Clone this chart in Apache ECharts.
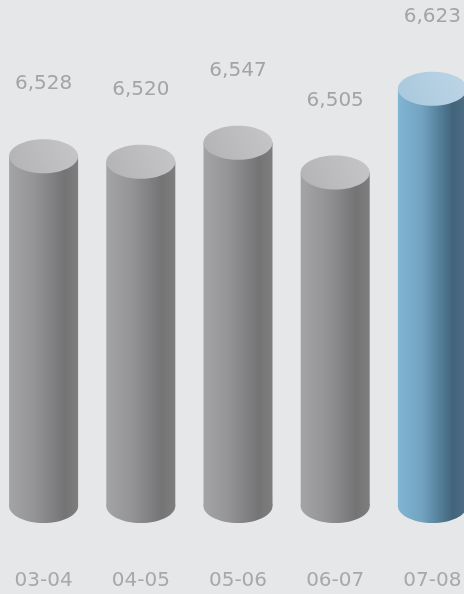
<!DOCTYPE html>
<html>
<head>
<meta charset="utf-8">
<script src="https://cdn.jsdelivr.net/npm/echarts@6/dist/echarts.min.js"></script>
<style>
html,body{margin:0;padding:0;background:#e6e7e9;overflow:hidden;width:464px;height:594px;}
#chart{width:486px;height:594px;margin-left:-5px;}
</style>
</head>
<body>
<div id="chart"></div>
<script>
var categories = ['03-04', '04-05', '05-06', '06-07', '07-08'];
var values = [6528, 6520, 6547, 6505, 6623];
var highlightIndex = 4;

var chart = echarts.init(document.getElementById('chart'), null, {renderer: 'canvas'});

function bodyGrad(blue) {
  var stops = blue ? [
    {offset: 0, color: '#80b5d3'},
    {offset: 0.35, color: '#72a3c0'},
    {offset: 0.6, color: '#55809a'},
    {offset: 0.8, color: '#42637a'},
    {offset: 1, color: '#4e6f84'}
  ] : [
    {offset: 0, color: '#a4a4a6'},
    {offset: 0.35, color: '#959597'},
    {offset: 0.6, color: '#838385'},
    {offset: 0.8, color: '#747474'},
    {offset: 1, color: '#7e7e7e'}
  ];
  return new echarts.graphic.LinearGradient(0, 0, 1, 0, stops);
}
function topGrad(blue) {
  var stops = blue ? [
    {offset: 0, color: '#a9c8dc'},
    {offset: 1, color: '#bcd5e6'}
  ] : [
    {offset: 0, color: '#b3b3b5'},
    {offset: 1, color: '#c6c6c8'}
  ];
  return new echarts.graphic.LinearGradient(0, 1, 1, 0, stops);
}

var FONT = "'DejaVu Sans', Verdana, sans-serif";

var option = {
  backgroundColor: '#e6e7e9',
  animation: false,
  grid: {left: 0, right: 0, top: 0, bottom: 88, containLabel: false},
  xAxis: {
    type: 'category',
    data: categories,
    axisLine: {show: false},
    axisTick: {show: false},
    axisLabel: {
      margin: 65,
      fontSize: 20,
      color: '#a8a8aa',
      fontFamily: FONT
    }
  },
  yAxis: {
    type: 'value',
    min: 6035,
    max: 6748,
    show: false,
    splitLine: {show: false}
  },
  series: [{
    type: 'custom',
    data: values.map(function (v, i) { return [i, v]; }),
    renderItem: function (params, api) {
      var i = api.value(0);
      var top = api.coord([i, api.value(1)]);
      var base = api.coord([i, 6035]);
      var band = api.size([1, 0])[0];
      var w = band * 0.71;
      var rx = w / 2;
      var ry = 17;
      var blue = i === highlightIndex;
      var cx = top[0];
      return {
        type: 'group',
        children: [
          {
            type: 'ellipse',
            shape: {cx: cx, cy: base[1], rx: rx, ry: ry},
            style: {fill: bodyGrad(blue)}
          },
          {
            type: 'rect',
            shape: {x: cx - rx, y: top[1], width: w, height: base[1] - top[1]},
            style: {fill: bodyGrad(blue)}
          },
          {
            type: 'ellipse',
            shape: {cx: cx, cy: top[1], rx: rx, ry: ry},
            style: {fill: topGrad(blue)}
          },
          {
            type: 'text',
            style: {
              text: echarts.format.addCommas(api.value(1)),
              x: cx,
              y: top[1] - 72,
              align: 'center',
              verticalAlign: 'middle',
              fontSize: 20,
              fill: '#a4a4a6',
              fontFamily: FONT
            }
          }
        ]
      };
    }
  }]
};
chart.setOption(option);
</script>
</body>
</html>
